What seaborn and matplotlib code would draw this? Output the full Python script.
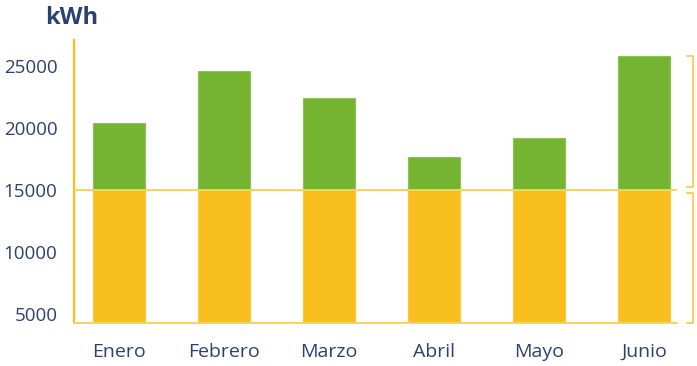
import matplotlib
matplotlib.use("Agg")
import matplotlib.pyplot as plt
import matplotlib.transforms as mtransforms
import seaborn as sns
import pandas as pd

months = ["Enero", "Febrero", "Marzo", "Abril", "Mayo", "Junio"]
totals = [20400, 24600, 22400, 17650, 19200, 25800]
base = [15000, 15000, 15000, 15000, 15000, 15000]
yticks = [5000, 10000, 15000, 20000, 25000]
ymin, ymax = 4300, 27100

YELLOW = "#F9BF1E"
GREEN = "#75B431"
NAVY = "#2B4172"

sns.set_theme(style="white")
plt.rcParams["font.family"] = ["Open Sans", "DejaVu Sans"]

df = pd.DataFrame({"mes": months, "total": totals, "base": base})

fig = plt.figure(figsize=(6.97, 3.66), dpi=100)
ax = fig.add_axes([74/697, 43/366, (677-74)/697, (323-40)/366])

sns.barplot(data=df, x="mes", y="total", color=GREEN, width=0.495,
            edgecolor="#8CC453", linewidth=0.8, ax=ax, saturation=1)
sns.barplot(data=df, x="mes", y="base", color=YELLOW, width=0.495,
            edgecolor="#FAC93F", linewidth=0.8, ax=ax, saturation=1)

ax.set_ylim(ymin, ymax)
ax.set_xlim(-0.4286, 5.314)
ax.set_yticks(yticks)
ax.set_xlabel("")
ax.set_ylabel("")
for s in ["top", "right"]:
    ax.spines[s].set_visible(False)
ax.spines["left"].set_color(YELLOW)
ax.spines["left"].set_linewidth(1.6)
ax.spines["bottom"].set_color("#FAD160")
ax.spines["bottom"].set_linewidth(1.4)
ax.axhline(15000, color="#FAD160", linewidth=1.4, zorder=3)
ax.tick_params(axis="both", length=0, colors=NAVY)
ax.tick_params(axis="x", pad=24.5, labelsize=14)
ax.tick_params(axis="y", pad=12, labelsize=13.5)
for lab in ax.get_xticklabels():
    lab.set_verticalalignment("baseline")

# brackets on the right
tr = mtransforms.blended_transform_factory(ax.transAxes, ax.transData)
xr = (693-74)/(677-74)
xl = (687-74)/(677-74)
top = max(totals)
for y0, y1 in [(15000 + 250, top), (ymin, 15000 - 250)]:
    ax.plot([xl, xr, xr, xl], [y1, y1, y0, y0], color="#FAD160",
            linewidth=1.4, transform=tr, clip_on=False)

fig.text(45/697, 1 - 18/366, "kWh", fontsize=17, fontweight="bold",
         color=NAVY, va="center", ha="left")

fig.savefig("out.png", dpi=100)
